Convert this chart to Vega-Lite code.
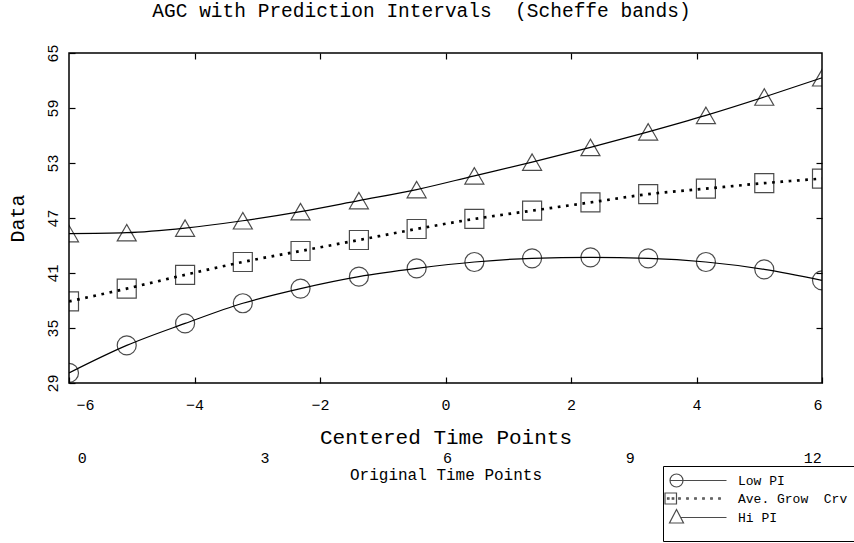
{
  "$schema": "https://vega.github.io/schema/vega-lite/v6.json",
  "autosize": {"type": "none"},
  "padding": {"left": 69, "top": 53, "right": 32, "bottom": 160},
  "width": 753,
  "height": 330,
  "background": "white",
  "title": {
    "text": "AGC with Prediction Intervals \u00a0(Scheffe bands)",
    "font": "Liberation Mono",
    "fontSize": 19.5,
    "fontWeight": "normal",
    "color": "black",
    "offset": 22,
    "dx": -24
  },
  "data": {
    "values": [
      {"series": "Low PI", "t": -6, "v": 30.1},
      {"series": "Low PI", "t": -5.08, "v": 33.1},
      {"series": "Low PI", "t": -4.15, "v": 35.5},
      {"series": "Low PI", "t": -3.23, "v": 37.7},
      {"series": "Low PI", "t": -2.31, "v": 39.3},
      {"series": "Low PI", "t": -1.38, "v": 40.6},
      {"series": "Low PI", "t": -0.46, "v": 41.5},
      {"series": "Low PI", "t": 0.46, "v": 42.2},
      {"series": "Low PI", "t": 1.38, "v": 42.6},
      {"series": "Low PI", "t": 2.31, "v": 42.7},
      {"series": "Low PI", "t": 3.23, "v": 42.6},
      {"series": "Low PI", "t": 4.15, "v": 42.2},
      {"series": "Low PI", "t": 5.08, "v": 41.4},
      {"series": "Low PI", "t": 6, "v": 40.2},
      {"series": "Ave. Grow \u00a0Crv", "t": -6, "v": 37.9},
      {"series": "Ave. Grow \u00a0Crv", "t": -5.08, "v": 39.3},
      {"series": "Ave. Grow \u00a0Crv", "t": -4.15, "v": 40.8},
      {"series": "Ave. Grow \u00a0Crv", "t": -3.23, "v": 42.2},
      {"series": "Ave. Grow \u00a0Crv", "t": -2.31, "v": 43.4},
      {"series": "Ave. Grow \u00a0Crv", "t": -1.38, "v": 44.6},
      {"series": "Ave. Grow \u00a0Crv", "t": -0.46, "v": 45.8},
      {"series": "Ave. Grow \u00a0Crv", "t": 0.46, "v": 46.9},
      {"series": "Ave. Grow \u00a0Crv", "t": 1.38, "v": 47.8},
      {"series": "Ave. Grow \u00a0Crv", "t": 2.31, "v": 48.7},
      {"series": "Ave. Grow \u00a0Crv", "t": 3.23, "v": 49.6},
      {"series": "Ave. Grow \u00a0Crv", "t": 4.15, "v": 50.2},
      {"series": "Ave. Grow \u00a0Crv", "t": 5.08, "v": 50.8},
      {"series": "Ave. Grow \u00a0Crv", "t": 6, "v": 51.3},
      {"series": "Hi PI", "t": -6, "v": 45.3},
      {"series": "Hi PI", "t": -5.08, "v": 45.4},
      {"series": "Hi PI", "t": -4.15, "v": 45.9},
      {"series": "Hi PI", "t": -3.23, "v": 46.7},
      {"series": "Hi PI", "t": -2.31, "v": 47.7},
      {"series": "Hi PI", "t": -1.38, "v": 48.9},
      {"series": "Hi PI", "t": -0.46, "v": 50.1},
      {"series": "Hi PI", "t": 0.46, "v": 51.6},
      {"series": "Hi PI", "t": 1.38, "v": 53.1},
      {"series": "Hi PI", "t": 2.31, "v": 54.7},
      {"series": "Hi PI", "t": 3.23, "v": 56.4},
      {"series": "Hi PI", "t": 4.15, "v": 58.2},
      {"series": "Hi PI", "t": 5.08, "v": 60.2},
      {"series": "Hi PI", "t": 6, "v": 62.3}
    ]
  },
  "resolve": {"scale": {"x": "independent", "shape": "independent"}, "axis": {"y": "independent"}, "legend": {"shape": "independent"}},
  "layer": [
    {
      "transform": [{"filter": "datum.series !== 'Ave. Grow \u00a0Crv'"}],
      "mark": {"type": "line", "interpolate": "monotone", "color": "black", "strokeWidth": 1.2, "clip": true},
      "encoding": {
        "x": {
          "field": "t", "type": "quantitative",
          "scale": {"domain": [-6, 6], "nice": false, "zero": false},
          "axis": {
            "orient": "bottom",
            "values": [-6, -4, -2, 0, 2, 4, 6],
            "grid": false, "domain": false,
            "tickSize": -6, "tickColor": "black", "tickWidth": 1.2,
            "labelPadding": 20,
            "labelFontSize": 15,
            "labelOffset": {"condition": {"test": "datum.value === -6", "value": 7}, "value": 0},
            "title": "Centered Time Points",
            "titleFontSize": 21,
            "titlePadding": 14
          }
        },
        "y": {
          "field": "v", "type": "quantitative",
          "scale": {"domain": [29, 65], "nice": false, "zero": false},
          "axis": {
            "orient": "left",
            "values": [29, 35, 41, 47, 53, 59, 65],
            "grid": false, "domain": false,
            "tickSize": -6, "tickColor": "black", "tickWidth": 1.2,
            "labelAngle": 270,
            "labelPadding": 15,
            "labelFontSize": 15,
            "title": "Data",
            "titleFontSize": 20,
            "titlePadding": 18
          }
        },
        "detail": {"field": "series"}
      }
    },
    {
      "transform": [{"filter": "datum.series === 'Ave. Grow \u00a0Crv'"}],
      "mark": {"type": "line", "interpolate": "monotone", "color": "black", "strokeWidth": 2.7, "strokeDash": [2.7, 5.6], "clip": true},
      "encoding": {
        "x": {
          "field": "t", "type": "quantitative",
          "scale": {"domain": [-6, 6], "nice": false, "zero": false},
          "axis": null
        },
        "y": {"field": "v", "type": "quantitative", "axis": null}
      }
    },
    {
      "mark": {"type": "point", "filled": false, "color": "black", "strokeWidth": 1.2, "size": 361, "clip": true},
      "encoding": {
        "x": {
          "field": "t", "type": "quantitative",
          "scale": {"domain": [-6, 6], "nice": false, "zero": false},
          "axis": {
            "orient": "top",
            "values": [-4, -2, 0, 2, 4],
            "grid": false, "domain": false, "labels": false, "title": null,
            "tickSize": -6, "tickColor": "black", "tickWidth": 1.2
          }
        },
        "y": {
          "field": "v", "type": "quantitative",
          "axis": {
            "orient": "right",
            "values": [35, 41, 47, 53, 59],
            "grid": false, "domain": false, "labels": false, "title": null,
            "tickSize": -6, "tickColor": "black", "tickWidth": 1.2
          }
        },
        "shape": {
          "field": "series",
          "scale": {"domain": ["Low PI", "Ave. Grow \u00a0Crv", "Hi PI"], "range": ["circle", "square", "triangle-up"]},
          "legend": null
        }
      }
    },
    {
      "mark": {"type": "point", "filled": false, "color": "black", "strokeWidth": 1.2, "size": 0},
      "encoding": {
        "shape": {
          "field": "series",
          "scale": {
            "domain": ["Low PI", "Ave. Grow \u00a0Crv", "Hi PI"],
            "range": [
              "M-1.3,0A1.3,1.3,0,1,1,1.3,0A1.3,1.3,0,1,1,-1.3,0M-1.3,0L10,0",
              "M-2.3,-1.1H0V1.1H-2.3ZM-1.8,-0.15h0.3v0.3h-0.3ZM-0.85,-0.15h0.3v0.3h-0.3ZM0.45,-0.15h0.3v0.3h-0.3ZM2.05,-0.15h0.3v0.3h-0.3ZM3.65,-0.15h0.3v0.3h-0.3ZM5.25,-0.15h0.3v0.3h-0.3ZM6.85,-0.15h0.3v0.3h-0.3ZM8.45,-0.15h0.3v0.3h-0.3Z",
              "M0,-1.6L1.4,1.1L-1.4,1.1ZM0.8,0L10,0"
            ]
          },
          "legend": {
            "orient": "none",
            "legendX": 594,
            "legendY": 413,
            "title": " ",
            "titleOrient": "bottom",
            "titleFontSize": 8,
            "titlePadding": 0,
            "strokeColor": "black",
            "padding": 8,
            "rowPadding": 0,
            "symbolSize": 100,
            "symbolStrokeColor": "black",
            "symbolStrokeWidth": 1.2,
            "symbolFillColor": "transparent",
            "symbolOffset": -1,
            "labelOffset": 55,
            "labelFont": "Liberation Mono",
            "labelFontSize": 13,
            "labelColor": "black",
            "labelLimit": 300
          }
        }
      }
    },
    {
      "data": {"values": [{"o": 0}, {"o": 12}]},
      "mark": {"type": "point", "opacity": 0},
      "encoding": {
        "x": {
          "field": "o", "type": "quantitative",
          "scale": {"domain": [-0.21, 12.16], "nice": false, "zero": false},
          "axis": {
            "orient": "bottom",
            "offset": 60,
            "values": [0, 3, 6, 9, 12],
            "grid": false, "domain": false, "ticks": false,
            "labelPadding": 7,
            "labelFontSize": 15,
            "title": "Original Time Points",
            "titleFontSize": 16,
            "titlePadding": 1
          }
        }
      }
    }
  ],
  "config": {
    "view": {"stroke": "black", "strokeWidth": 1.5},
    "axis": {
      "labelFont": "Liberation Mono",
      "titleFont": "Liberation Mono",
      "labelColor": "black",
      "titleColor": "black",
      "titleFontWeight": "normal"
    }
  }
}
